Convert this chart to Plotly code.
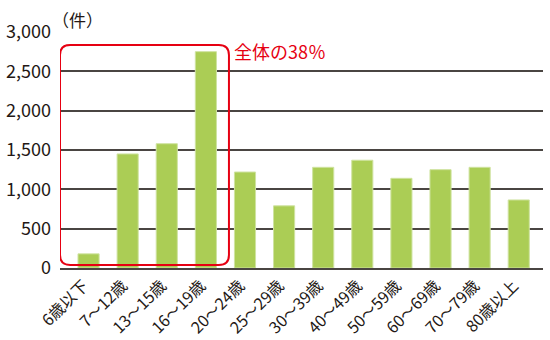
import plotly.graph_objects as go

categories = ["6歳以下", "7～12歳", "13～15歳", "16～19歳", "20～24歳", "25～29歳",
              "30～39歳", "40～49歳", "50～59歳", "60～69歳", "70～79歳", "80歳以上"]
values = [180, 1450, 1580, 2750, 1220, 790, 1280, 1370, 1140, 1250, 1280, 865]
y_ticks = [0, 500, 1000, 1500, 2000, 2500, 3000]
y_tick_labels = ["0", "500", "1,000", "1,500", "2,000", "2,500", "3,000"]
note_text = "全体の38％"
unit_text = "（件）"

FONT = "Noto Sans CJK JP, Noto Sans, sans-serif"
TXT = "#231815"
RED = "#e60012"

fig = go.Figure()
fig.add_trace(go.Bar(
    x=list(range(len(categories))), y=values,
    width=0.54,
    marker=dict(color="#abcd55", line=dict(color="#cfe3a0", width=1)),
))

# rounded rectangle around the first four bars (data coords)
x0, x1 = -0.73, 3.59
y0, y1 = 38, 2835
rx, ry = 0.26, 127
path = (f"M {x0+rx},{y0} L {x1-rx},{y0} Q {x1},{y0} {x1},{y0+ry} "
        f"L {x1},{y1-ry} Q {x1},{y1} {x1-rx},{y1} "
        f"L {x0+rx},{y1} Q {x0},{y1} {x0},{y1-ry} "
        f"L {x0},{y0+ry} Q {x0},{y0} {x0+rx},{y0} Z")
fig.add_shape(type="path", path=path, xref="x", yref="y",
              line=dict(color=RED, width=2), layer="above")

fig.add_annotation(x=3.66, y=2760, xref="x", yref="y", text=note_text,
                   showarrow=False, xanchor="left", yanchor="middle",
                   font=dict(family=FONT, size=18, color=RED))
fig.add_annotation(x=0, y=1, xref="paper", yref="paper", text=unit_text,
                   showarrow=False, xanchor="left", yanchor="bottom", yshift=-2, xshift=-10,
                   font=dict(family=FONT, size=17, color=TXT))

fig.update_layout(
    width=550, height=340,
    margin=dict(l=60, r=7, t=32, b=72),
    paper_bgcolor="white", plot_bgcolor="white",
    showlegend=False,
    font=dict(family=FONT, color=TXT),
)
fig.update_xaxes(
    range=[-0.73, 11.62], automargin=False,
    tickmode="array", tickvals=list(range(len(categories))), ticktext=categories,
    tickangle=-45, tickfont=dict(family=FONT, size=16, color=TXT),
    showgrid=False, showline=True, linecolor="#4a4542", linewidth=2,
    ticks="", zeroline=False, ticklabelshift=-5,
)
fig.update_yaxes(
    range=[0, 3000], automargin=False,
    tickmode="array", tickvals=y_ticks, ticktext=y_tick_labels,
    tickfont=dict(family=FONT, size=18, color=TXT),
    showgrid=True, gridcolor="#4a4542", gridwidth=2,
    zeroline=False, showline=False, ticks="", ticklabelstandoff=8,
)

fig.write_html("out.html")
